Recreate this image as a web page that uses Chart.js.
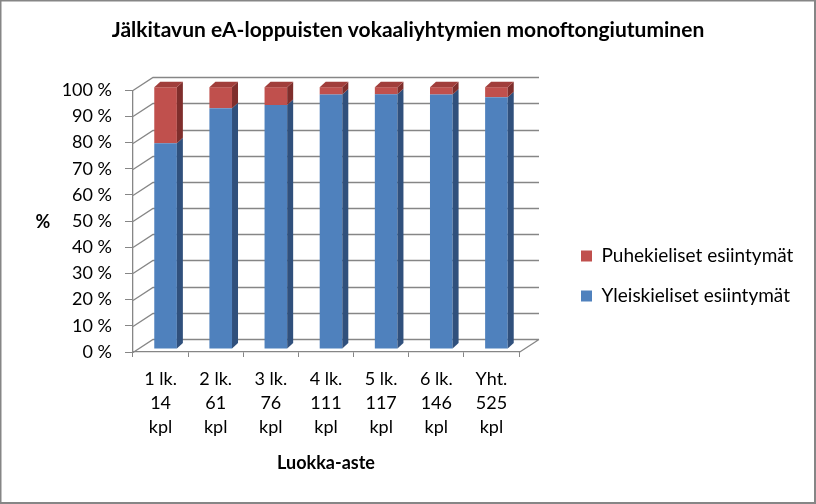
<!DOCTYPE html>
<html lang="fi">
<head>
<meta charset="UTF-8" />
<title>Jälkitavun eA-loppuisten vokaaliyhtymien monoftongiutuminen</title>
<script src="https://cdn.jsdelivr.net/npm/chart.js"></script>
<style>
  html, body { margin: 0; padding: 0; background: #fff; }
  #wrap { width: 816px; height: 504px; }
</style>
</head>
<body>
<div id="wrap"><canvas id="chart" width="816" height="504"></canvas></div>
<script>
// data (percent of occurrences per grade)
const grades = ['1 lk.', '2 lk.', '3 lk.', '4 lk.', '5 lk.', '6 lk.', 'Yht.'];
const counts = [14, 61, 76, 111, 117, 146, 525];
const yleiskieliset = [78.6, 92.0, 93.2, 97.2, 97.3, 97.2, 96.2];
const puhekieliset = [21.4, 8.0, 6.8, 2.8, 2.7, 2.8, 3.8];
const yTicks = [0, 10, 20, 30, 40, 50, 60, 70, 80, 90, 100];

const chartTitle = 'Jälkitavun eA-loppuisten vokaaliyhtymien monoftongiutuminen';
const xTitle = 'Luokka-aste';
const yTitle = '%';

const FONT = 'Lato, "Open Sans", sans-serif';
const GRID = '#868686';

// 3d look: back wall offset, bar plane offset and bar depth
const wall = { dx: 20, dy: -13 };
const barPlane = { dx: 5, dy: -3 };
const barDepth = { dx: 6, dy: -5.5 };
const sideColors = ['#30507c', '#7f2e2c'];
const topColors = ['#3d679a', '#a13e3b'];

const depth3d = {
  id: 'depth3d',
  beforeDraw(chart) {
    const { ctx, width, height } = chart;
    ctx.save();
    ctx.fillStyle = '#fff';
    ctx.fillRect(0, 0, width, height);
    ctx.strokeStyle = GRID;
    ctx.lineWidth = 3;
    ctx.strokeRect(0, 0, width - 0.5, height - 0.5);
    ctx.restore();
  },
  beforeDatasetsDraw(chart) {
    const { ctx, chartArea: a, scales } = chart;
    ctx.save();
    ctx.strokeStyle = GRID;
    ctx.lineWidth = 1.3;
    ctx.beginPath();
    yTicks.forEach(v => {
      const y = Math.round(scales.y.getPixelForValue(v)) + 0.5;
      ctx.moveTo(a.left, y);
      ctx.lineTo(a.left + wall.dx, y + wall.dy);
      ctx.lineTo(a.right + wall.dx, y + wall.dy);
    });
    const yb = Math.round(scales.y.getPixelForValue(0)) + 0.5;
    ctx.moveTo(a.right, yb);
    ctx.lineTo(a.right + wall.dx, yb + wall.dy);
    ctx.stroke();
    ctx.restore();

    ctx.save();
    ctx.translate(barPlane.dx, barPlane.dy);
  },
  afterDatasetsDraw(chart) {
    const { ctx } = chart;
    const metas = chart.getSortedVisibleDatasetMetas();
    metas.forEach((meta, di) => {
      meta.data.forEach((bar, i) => {
        const p = bar.getProps(['x', 'y', 'base', 'width'], true);
        const x2 = p.x + p.width / 2;
        const x1 = p.x - p.width / 2;
        const top = Math.min(p.y, p.base);
        const bot = Math.max(p.y, p.base);
        ctx.fillStyle = sideColors[di];
        ctx.beginPath();
        ctx.moveTo(x2, bot);
        ctx.lineTo(x2 + barDepth.dx, bot + barDepth.dy);
        ctx.lineTo(x2 + barDepth.dx, top + barDepth.dy);
        ctx.lineTo(x2, top);
        ctx.closePath();
        ctx.fill();
        if (di === metas.length - 1) {
          ctx.fillStyle = topColors[di];
          ctx.beginPath();
          ctx.moveTo(x1, top);
          ctx.lineTo(x1 + barDepth.dx, top + barDepth.dy);
          ctx.lineTo(x2 + barDepth.dx, top + barDepth.dy);
          ctx.lineTo(x2, top);
          ctx.closePath();
          ctx.fill();
        }
      });
    });
    ctx.restore();

    // the "%" axis label, upright like in the original
    const ys = chart.scales.y;
    ctx.save();
    ctx.font = 'bold 18px ' + FONT;
    ctx.fillStyle = '#000';
    ctx.textAlign = 'center';
    ctx.textBaseline = 'middle';
    ctx.fillText(yTitle, 43, (ys.top + ys.bottom) / 2 + 1);
    ctx.restore();
  },
  afterLayout(chart) {
    // legend sits further right and lower than Chart.js would put it
    const lg = chart.legend;
    lg.left += 41;
    lg.right = chart.width - 3;
    lg.width = lg.right - lg.left;
    lg.top += 28; lg.bottom += 28;
    // title centred over the whole picture
    chart.titleBlock.left = 0;
    chart.titleBlock.right = chart.width;
  }
};

new Chart(document.getElementById('chart'), {
  type: 'bar',
  data: {
    labels: grades.map((g, i) => [g, String(counts[i]), 'kpl']),
    datasets: [
      {
        label: 'Yleiskieliset esiintymät',
        data: yleiskieliset,
        backgroundColor: '#4f81bd',
        barPercentage: 0.41,
        categoryPercentage: 1,
        clip: false
      },
      {
        label: 'Puhekieliset esiintymät',
        data: puhekieliset,
        backgroundColor: '#c0504d',
        barPercentage: 0.41,
        categoryPercentage: 1,
        clip: false
      }
    ]
  },
  options: {
    responsive: false,
    animation: false,
    layout: { padding: { left: 0, right: 73, top: 0, bottom: 8 } },
    plugins: {
      title: {
        display: true,
        text: chartTitle,
        color: '#000',
        font: { family: FONT, size: 21, weight: 'bold' },
        padding: { top: 18, bottom: 47 }
      },
      legend: {
        position: 'right',
        reverse: true,
        maxWidth: 224,
        labels: {
          boxWidth: 11,
          boxHeight: 11,
          padding: 21,
          color: '#000',
          font: { family: FONT, size: 19 }
        }
      },
      tooltip: { enabled: false }
    },
    scales: {
      x: {
        stacked: true,
        grid: { drawOnChartArea: false, offset: true, tickLength: 5, color: GRID },
        border: { color: GRID, width: 1.3 },
        ticks: { color: '#000', padding: 10, font: { family: FONT, size: 18, lineHeight: 1.33 } },
        title: {
          display: true,
          text: xTitle,
          color: '#000',
          font: { family: FONT, size: 18, weight: 'bold' },
          padding: { top: 10, bottom: 22 }
        },
        afterFit(scale) { scale.height = 144; }
      },
      y: {
        stacked: true,
        min: 0,
        max: 100,
        grid: { drawOnChartArea: false, tickLength: 8, color: GRID },
        border: { color: GRID, width: 1.3 },
        ticks: {
          stepSize: 10,
          color: '#000',
          padding: 13,
          font: { family: FONT, size: 18 },
          callback: v => v + ' %'
        },
        afterFit(scale) { scale.width = 133; }
      }
    }
  },
  plugins: [depth3d]
});
</script>
</body>
</html>
